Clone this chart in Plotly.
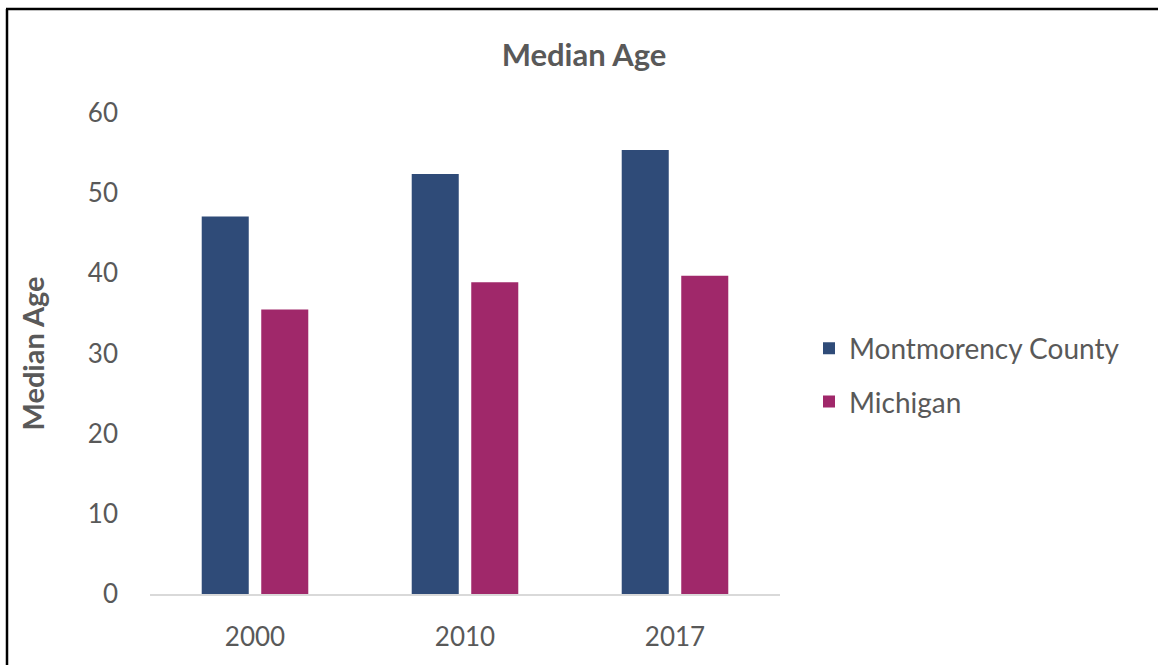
import plotly.graph_objects as go

years = ["2000", "2010", "2017"]
montmorency = [47.1, 52.4, 55.4]
michigan = [35.5, 38.9, 39.7]
series_names = ["Montmorency County", "Michigan"]
y_ticks = [0, 10, 20, 30, 40, 50, 60]

FONT = "Lato"
GRAY = "#595959"

fig = go.Figure()
fig.add_trace(go.Bar(x=years, y=montmorency, name=series_names[0], legendgroup="a",
                     marker=dict(color="#2F4B78", line=dict(width=0))))
fig.add_trace(go.Bar(x=years, y=michigan, name=series_names[1], legendgroup="b",
                     marker=dict(color="#A0286A", line=dict(width=0))))

L, R, T, B = 150, 378, 113, 71
W, H = 1158, 665
pw, ph = W - L - R, H - T - B

def px(x):
    return (x - L) / pw

def py(y):
    return (H - B - y) / ph

fig.update_layout(
    width=W, height=H,
    margin=dict(l=L, r=R, t=T, b=B, autoexpand=False),
    paper_bgcolor="white", plot_bgcolor="white",
    barmode="group", bargap=0.433, bargroupgap=0.21,
    font=dict(family=FONT, color=GRAY),
    title=dict(text="<b>Median Age</b>", x=584 / W, xref="container", xanchor="center",
               y=1 - 55 / H, yref="container", yanchor="middle",
               font=dict(size=31, color=GRAY, family=FONT)),
    legend=dict(x=px(809), y=py(375), xanchor="left", yanchor="middle",
                font=dict(size=28, color=GRAY, family=FONT),
                tracegroupgap=14, itemsizing="constant", bgcolor="rgba(0,0,0,0)"),
    xaxis=dict(showline=True, linecolor="#D9D9D9", linewidth=2, ticks="",
               tickfont=dict(size=26, color=GRAY, family=FONT), showgrid=False,
               ticklabelstandoff=19),
    yaxis=dict(range=[0, 60], tickvals=y_ticks, showgrid=False, zeroline=False,
               showline=False, ticks="", tickfont=dict(size=26, color=GRAY, family=FONT),
               ticklabelstandoff=31,
               title=dict(text="<b>Median Age</b>", font=dict(size=29, color=GRAY, family=FONT),
                          standoff=34)),
)

# outer chart border (top and left edges visible)
fig.add_shape(type="line", xref="paper", yref="paper", x0=px(7), x1=px(7), y0=py(9), y1=py(700),
              line=dict(color="black", width=2.5))
fig.add_shape(type="line", xref="paper", yref="paper", x0=px(6), x1=px(1200), y0=py(9), y1=py(9),
              line=dict(color="black", width=2.5))

fig.write_html("out.html", config={"displayModeBar": False},
               post_script="document.body.style.margin='0';document.body.style.overflow='hidden';")
